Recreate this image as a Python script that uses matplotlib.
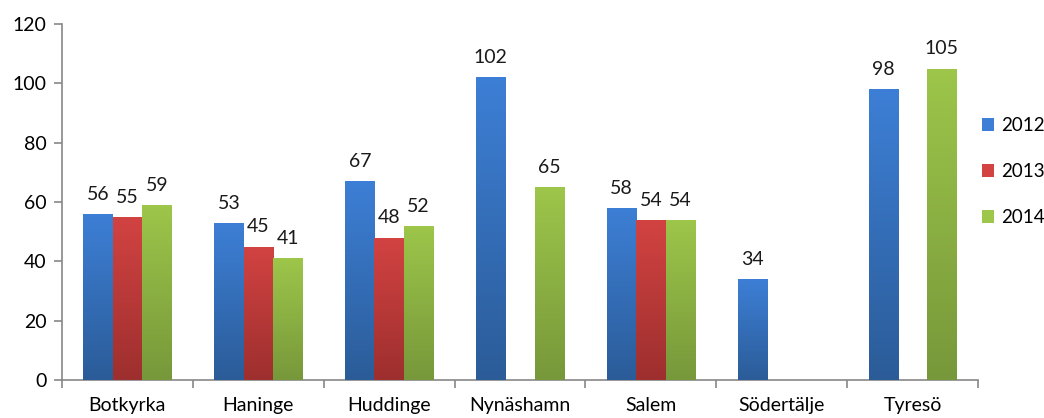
import numpy as np
import matplotlib
matplotlib.use("Agg")
import matplotlib.pyplot as plt
from matplotlib.colors import LinearSegmentedColormap
from matplotlib.patches import Patch

categories = ["Botkyrka", "Haninge", "Huddinge", "Nynäshamn", "Salem", "Södertälje", "Tyresö"]
years = ["2012", "2013", "2014"]
v2012 = [56, 53, 67, 102, 58, 34, 98]
v2013 = [55, 45, 48, np.nan, 54, np.nan, np.nan]
v2014 = [59, 41, 52, 65, 54, np.nan, 105]
series = [v2012, v2013, v2014]
tops = ["#3d7fd6", "#d24342", "#9dc64a"]
bottoms = ["#2b5c98", "#9d2f2e", "#77983a"]

plt.rcParams['font.family'] = ['Lato', 'DejaVu Sans']
fig = plt.figure(figsize=(10.44, 4.18), dpi=100)
ax = fig.add_axes([62/1044, 1-380/418, (978-62)/1044, (380-24)/418])

x = np.arange(len(categories))
w = 0.224
for i, (vals, ct, cb) in enumerate(zip(series, tops, bottoms)):
    pos = x + (i - 1) * w
    bars = ax.bar(pos, vals, width=w, color=ct, linewidth=0, zorder=2)
    cmap = LinearSegmentedColormap.from_list("g%d" % i, [cb, ct])
    for b, v in zip(bars, vals):
        if np.isnan(v):
            continue
        x0, y0 = b.get_x(), b.get_y()
        bw, bh = b.get_width(), b.get_height()
        im = ax.imshow(np.linspace(0, 1, 256).reshape(-1, 1), cmap=cmap, aspect='auto',
                       origin='lower', extent=[x0, x0 + bw, y0, y0 + bh], zorder=3)
        im.set_clip_path(b)
        ax.annotate("%d" % v, (x0 + bw / 2, y0 + bh), xytext=(0, 8), textcoords='offset points',
                    ha='center', va='bottom', fontsize=14, color='#1a1a1a')

ax.set_xlim(-0.5, len(categories) - 0.5)
ax.set_ylim(0, 120)
ax.set_yticks(np.arange(0, 121, 20))
ax.set_xticks(x)
ax.set_xticklabels(categories)
ax.set_xticks(np.arange(-0.5, len(categories) + 0.5, 1), minor=True)
ax.tick_params(axis='x', which='major', length=0, pad=12, labelsize=14)
ax.tick_params(axis='x', which='minor', length=6, color='#888888', width=1.2)
ax.tick_params(axis='y', length=6, color='#888888', width=1.2, labelsize=14, pad=5)
for s in ['top', 'right']:
    ax.spines[s].set_visible(False)
for s in ['left', 'bottom']:
    ax.spines[s].set_color('#888888')
    ax.spines[s].set_linewidth(1.2)

handles = [Patch(facecolor=c, edgecolor='none') for c in tops]
leg = fig.legend(handles, years, loc='upper left', bbox_to_anchor=(982/1044, 1-117/418),
                 frameon=False, fontsize=13.5, handlelength=0.65, handleheight=0.65,
                 handletextpad=0.35, labelspacing=1.55, borderaxespad=0, borderpad=0)

fig.savefig("out.png", dpi=100)
